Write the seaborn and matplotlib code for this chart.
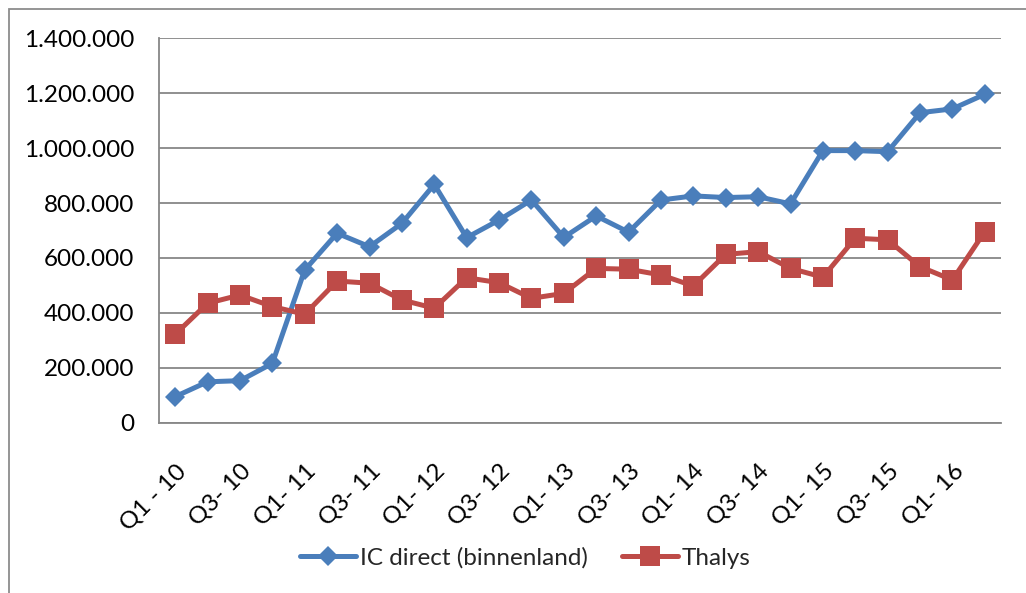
import numpy as np
import pandas as pd
import matplotlib
matplotlib.use('Agg')
import matplotlib.pyplot as plt
import seaborn as sns
from matplotlib.patches import Rectangle
from matplotlib.ticker import FuncFormatter, FixedLocator

# quarters Q1-10 .. Q2-16 (26 values)
quarters = ['Q1-10', 'Q2-10', 'Q3-10', 'Q4-10', 'Q1-11', 'Q2-11', 'Q3-11', 'Q4-11',
            'Q1-12', 'Q2-12', 'Q3-12', 'Q4-12', 'Q1-13', 'Q2-13', 'Q3-13', 'Q4-13',
            'Q1-14', 'Q2-14', 'Q3-14', 'Q4-14', 'Q1-15', 'Q2-15', 'Q3-15', 'Q4-15',
            'Q1-16', 'Q2-16']

ic_direct = [95000, 149000, 153000, 216000, 556000, 690000, 641000, 726000,
             868000, 674000, 738000, 811000, 675000, 753000, 694000, 811000,
             826000, 820000, 823000, 797000, 991000, 991000, 987000, 1129000,
             1143000, 1196000]

thalys = [322000, 435000, 465000, 423000, 395000, 516000, 508000, 447000,
          417000, 528000, 510000, 453000, 471000, 562000, 559000, 538000,
          498000, 613000, 623000, 562000, 530000, 672000, 666000, 568000,
          520000, 696000]

# labels shown on every other quarter
tick_labels = ['Q1 - 10', 'Q3- 10', 'Q1- 11', 'Q3- 11', 'Q1- 12', 'Q3- 12', 'Q1- 13',
               'Q3- 13', 'Q1- 14', 'Q3- 14', 'Q1- 15', 'Q3- 15', 'Q1- 16']

BLUE = '#4A7EBB'
RED = '#BE4B48'
GRID = '#878787'
FS = 17.5

sns.set_style('white')
plt.rcParams['font.family'] = ['Lato', 'DejaVu Sans']

df = pd.DataFrame({'idx': np.arange(len(quarters)), 'quarter': quarters,
                   'IC direct (binnenland)': ic_direct, 'Thalys': thalys})

fig = plt.figure(figsize=(10.26, 5.93), dpi=100)
ax = fig.add_axes([159 / 1026, 1 - 422.7 / 593, (1001 - 159) / 1026, (422.7 - 38.3) / 593])

sns.lineplot(data=df, x='idx', y='IC direct (binnenland)', ax=ax, color=BLUE,
             linewidth=3.6, marker='D', markersize=10.5, markeredgewidth=0,
             label='IC direct (binnenland)')
sns.lineplot(data=df, x='idx', y='Thalys', ax=ax, color=RED,
             linewidth=3.6, marker='s', markersize=14, markeredgewidth=0,
             label='Thalys')

ax.set_xlim(-0.5, len(quarters) - 0.5)
ax.set_ylim(0, 1400000)
ax.set_yticks(np.arange(0, 1400001, 200000))
ax.yaxis.set_major_formatter(FuncFormatter(lambda v, p: f'{int(v):,}'.replace(',', '.')))
ax.yaxis.grid(True, color=GRID, linewidth=1.3)
ax.set_axisbelow(True)

ax.xaxis.set_major_locator(FixedLocator(np.arange(0, len(quarters), 2)))
ax.set_xticklabels(tick_labels, rotation=45, ha='right', rotation_mode='anchor')
ax.xaxis.set_minor_locator(FixedLocator(np.arange(-0.5, len(quarters), 1)))
ax.tick_params(axis='x', which='major', length=0, pad=27, labelsize=FS, colors='black')
ax.tick_params(axis='x', which='minor', length=7, width=1.3, color=GRID, direction='out')
ax.tick_params(axis='y', length=7, width=1.3, color=GRID, direction='out', pad=11,
               labelsize=FS, labelcolor='black')
ax.set_xlabel('')
ax.set_ylabel('')

for s in ['top', 'right']:
    ax.spines[s].set_visible(False)
for s in ['left', 'bottom']:
    ax.spines[s].set_color(GRID)
    ax.spines[s].set_linewidth(1.3)

handles, labels = ax.get_legend_handles_labels()
ax.get_legend().remove()
fig.legend(handles, labels, loc='center', bbox_to_anchor=(0.512, 1 - 558 / 593), ncol=2,
           frameon=False, fontsize=FS, handlelength=2.3, handletextpad=0.15,
           columnspacing=1.4)

# chart area border
fig.patches.append(Rectangle((8.5 / 1026, -0.1), 1.2, 1.1 - 8.5 / 593,
                             transform=fig.transFigure, fill=False,
                             edgecolor='#8c8c8c', linewidth=1.3))

fig.savefig('out.png', dpi=100)
